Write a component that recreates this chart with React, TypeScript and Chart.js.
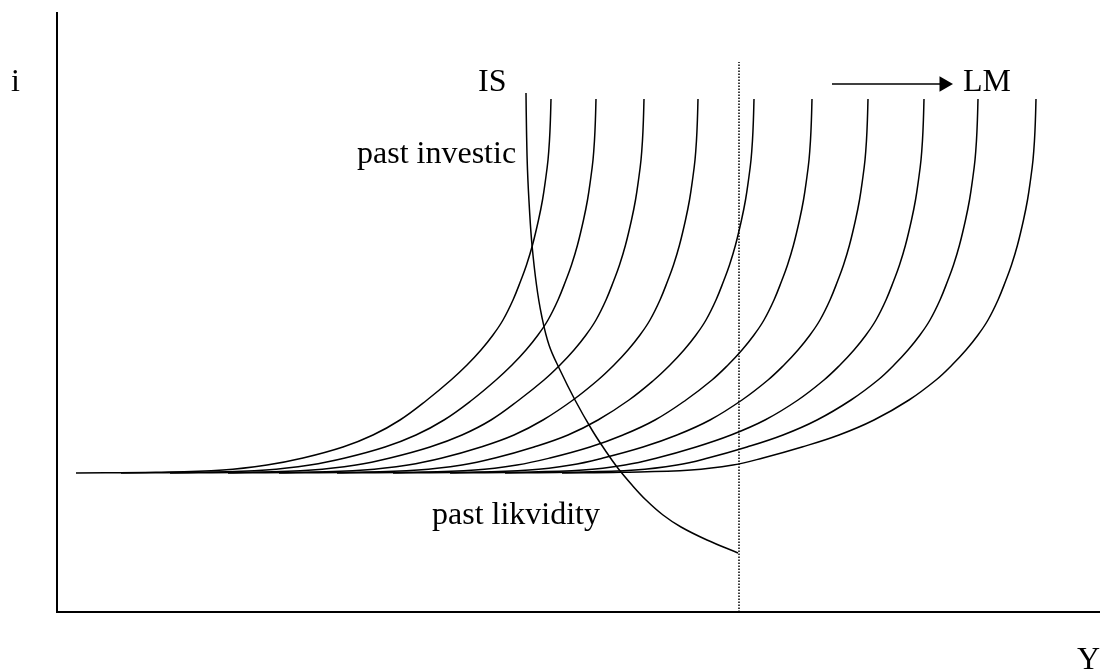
import React, { useEffect, useRef } from "react";
import { Chart, registerables } from "chart.js";

Chart.register(...registerables);

// Horizontal axis: output Y ; vertical axis: interest rate i (arbitrary units)
// Shared i levels of the LM curves (flat liquidity trap part -> steep classical part)
const LM_I = [139, 139.7, 142, 147, 154, 165, 177, 192, 212, 232, 247, 262, 277, 292, 312, 332, 347, 367, 392, 412, 432, 452, 472, 492, 513];
const LM1 = [19, 99, 166, 210, 246, 286, 316, 343, 370, 394, 410, 424, 436, 446, 456, 464, 469.5, 475.5, 481.5, 485.5, 488.5, 491, 492.5, 493.4, 494];
const LM2 = [64, 142, 209, 253, 288, 328, 359, 387, 415, 439, 455, 469, 481, 491, 501, 509, 514.5, 520.5, 526.5, 530.5, 533.5, 536, 537.5, 538.4, 539];
const LM3 = [113, 188, 255, 299, 333, 373, 405, 434, 462, 487, 503, 517, 529, 539, 549, 557, 562.5, 568.5, 574.5, 578.5, 581.5, 584, 585.5, 586.4, 587];
const LM4 = [171, 239, 307, 351, 385, 424, 457, 486, 516, 541, 557, 571, 583, 593, 603, 611, 616.5, 622.5, 628.5, 632.5, 635.5, 638, 639.5, 640.4, 641];
const LM5 = [222, 293, 361, 405, 438, 477, 511, 541, 572, 597, 613, 627, 639, 649, 659, 667, 672.5, 678.5, 684.5, 688.5, 691.5, 694, 695.5, 696.4, 697];
const LM6 = [280, 349, 418, 460, 493, 533, 566, 598, 629, 655, 671, 685, 697, 707, 717, 725, 730.5, 736.5, 742.5, 746.5, 749.5, 752, 753.5, 754.4, 755];
const LM7 = [336, 403, 472, 514, 546, 586, 620, 653, 685, 711, 727, 741, 753, 763, 773, 781, 786.5, 792.5, 798.5, 802.5, 805.5, 808, 809.5, 810.4, 811];
const LM8 = [393, 456, 526, 568, 600, 639, 674, 708, 741, 767, 783, 797, 809, 819, 829, 837, 842.5, 848.5, 854.5, 858.5, 861.5, 864, 865.5, 866.4, 867];
const LM9 = [448, 508, 578, 620, 651, 690, 726, 760, 794, 821, 837, 851, 863, 873, 883, 891, 896.5, 902.5, 908.5, 912.5, 915.5, 918, 919.5, 920.4, 921];
const LM10 = [505, 564, 634, 676, 706, 745, 782, 817, 852, 879, 895, 909, 921, 931, 941, 949, 954.5, 960.5, 966.5, 970.5, 973.5, 976, 977.5, 978.4, 979];

const IS_Y = [469, 469.5, 470.5, 472.5, 475, 479.5, 484.5, 492, 503, 518, 535, 548, 560, 575, 589, 606, 624, 650, 681];
const IS_I = [519, 482, 442, 402, 367, 327, 297, 267, 242, 212, 182, 162, 145, 127, 112, 97, 85, 72, 59];

const FULL_EMPLOYMENT_Y = [682, 682];
const FULL_EMPLOYMENT_I = [0, 550];
const ARROW_Y = [775, 887];
const ARROW_I = [528, 528];

const LABEL_TEXTS = ["i", "IS", "LM", "past investic", "past likvidity", "Y"];
const LABEL_Y = [-46, 421, 906, 300, 375, 1020];
const LABEL_I = [521, 521, 521, 449, 88, -57];

const zip = (xs: number[], ys: number[]) => xs.map((x, k) => ({ x, y: ys[k] }));

const textPlugin = {
  id: "textLabels",
  afterDraw(chart: any) {
    const { ctx, scales } = chart;
    ctx.save();
    ctx.fillStyle = "#000";
    ctx.font = '32px "Liberation Serif", "Times New Roman", serif';
    ctx.textBaseline = "alphabetic";
    ctx.textAlign = "left";
    LABEL_TEXTS.forEach((t, k) => {
      ctx.fillText(t, scales.x.getPixelForValue(LABEL_Y[k]), scales.y.getPixelForValue(LABEL_I[k]));
    });
    ctx.restore();
  },
};

export default function App() {
  const ref = useRef<HTMLCanvasElement>(null);
  useEffect(() => {
    if (!ref.current) return;
    const lmCurves = [LM1, LM2, LM3, LM4, LM5, LM6, LM7, LM8, LM9, LM10];
    const curveStyle = {
      borderColor: "#000",
      borderWidth: 1.5,
      pointRadius: 0,
      fill: false,
      tension: 0.4,
    };
    const datasets: any[] = lmCurves.map((c, k) => ({
      label: "LM" + (k + 1),
      data: zip(c, LM_I),
      ...curveStyle,
    }));
    datasets.push({ label: "IS", data: zip(IS_Y, IS_I), ...curveStyle });
    datasets.push({
      label: "dotted",
      data: zip(FULL_EMPLOYMENT_Y, FULL_EMPLOYMENT_I),
      borderColor: "#000",
      borderWidth: 1.5,
      borderDash: [1.5, 1.5],
      pointRadius: 0,
      tension: 0,
    });
    datasets.push({
      label: "arrow",
      data: zip(ARROW_Y, ARROW_I),
      borderColor: "#000",
      backgroundColor: "#000",
      borderWidth: 1.6,
      pointRadius: [0, 9],
      pointStyle: "triangle",
      rotation: 90,
      pointBorderWidth: 0,
      tension: 0,
    });
    const chart = new Chart(ref.current, {
      type: "line",
      data: { datasets },
      options: {
        animation: false,
        responsive: false,
        devicePixelRatio: 1,
        layout: { autoPadding: false, padding: { left: 57, top: 13, right: 0, bottom: 57 } },
        plugins: { legend: { display: false }, tooltip: { enabled: false } },
        events: [],
        scales: {
          x: {
            type: "linear",
            min: 0,
            max: 1043,
            grid: { display: false, drawTicks: false },
            ticks: { display: false },
            border: { display: true, color: "#000", width: 2 },
          },
          y: {
            type: "linear",
            min: 0,
            max: 599,
            grid: { display: false, drawTicks: false },
            ticks: { display: false },
            border: { display: true, color: "#000", width: 2 },
          },
        },
      },
      plugins: [textPlugin],
    });
    return () => chart.destroy();
  }, []);
  return (
    <div style={{ position: "absolute", left: 0, top: 0, width: 1100, height: 669, background: "#fff" }}>
      <canvas ref={ref} width={1100} height={669} style={{ display: "block" }} />
    </div>
  );
}
